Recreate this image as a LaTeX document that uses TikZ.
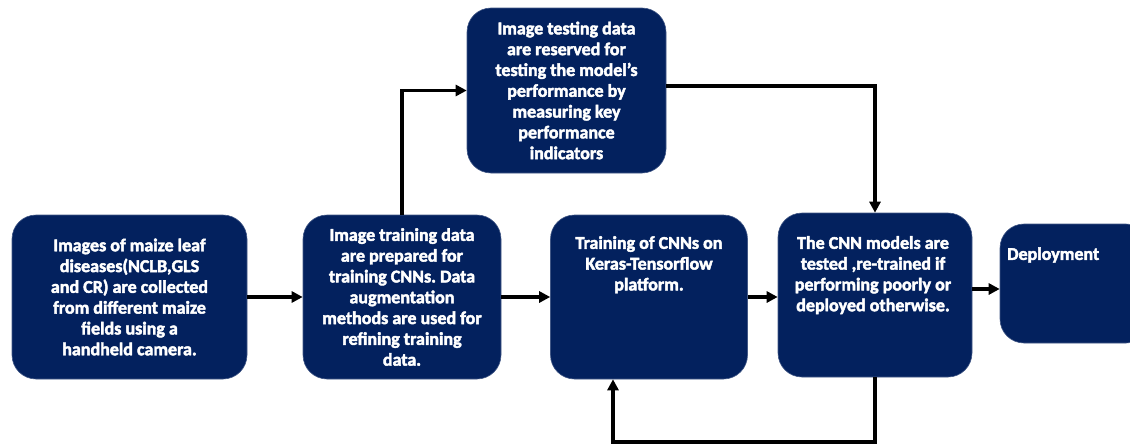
\documentclass[tikz,border=0pt]{standalone}
\usepackage{fontspec}
\setmainfont{Carlito}[BoldFeatures={FakeBold=2.5}]
\usetikzlibrary{arrows.meta}
\definecolor{navy}{RGB}{3,33,94}
\frenchspacing
\begin{document}
\begin{tikzpicture}[x=1pt,y=-1pt,
  box/.style={fill=navy, draw=navy!75!white, line width=0.6pt, rounded corners=24pt},
  txt/.style={text=white, font=\bfseries\fontsize{18}{20.8}\selectfont, align=center, inner sep=0pt},
  flow/.style={line width=3.2pt, -{Triangle[length=11pt,width=11pt]}}]
\useasboundingbox (0,0) rectangle (1130,447);

% main boxes
\node[box, txt, minimum width=235pt, minimum height=164pt] (collect) at (129.5,297)
  {Images of maize leaf\\diseases(NCLB,GLS\\and CR) are collected\\from different maize\\fields using a\\handheld camera.};
\node[box, txt, minimum width=198pt, minimum height=164pt] (prep) at (402,297)
  {Image training data\\are prepared for\\training CNNs. Data\\augmentation\\methods are used for\\refining training\\data.};
\node[box, txt, minimum width=199pt, minimum height=165pt] (reserve) at (566.5,90.5)
  {Image testing data\\are reserved for\\testing the model’s\\performance by\\measuring key\\performance\\indicators};
\node[box, minimum width=197pt, minimum height=164pt] (train) at (649,297) {};
\node[txt, anchor=north] (traintext) at (649,236)
  {Training of CNNs on\\Keras-Tensorflow\\platform.};
\node[box, minimum width=194pt, minimum height=164pt] (test) at (875,295) {};
\node[txt, anchor=north] (testtext) at (873,236)
  {The CNN models are\\tested ,re-trained if\\performing poorly or\\deployed otherwise.};
\node[box, minimum width=150pt, minimum height=119pt] (deploy) at (1075,283.5) {};
\node[txt, anchor=west] (deploytext) at (1007,255) {Deployment};

% helper points for connector routes
\coordinate (d) at (0,289);
\coordinate (fb) at (613,442);

% connectors
\draw[flow] (collect.east) -- (prep.west);
\draw[flow] (prep.east) -- (train.west);
\draw[flow] (train.east) -- (train.east -| test.west);
\draw[flow] (test.east |- d) -- (deploy.west |- d);
\draw[flow] (prep.north) -- (prep.north |- reserve.west) -- (reserve.west);
\draw[flow] ([yshift=4.5pt]reserve.east) -- ([yshift=4.5pt]reserve.east -| test.north) -- (test.north);
\draw[flow] (test.south) -- (test.south |- fb) -- (fb) -- (fb |- train.south);
\end{tikzpicture}
\end{document}
